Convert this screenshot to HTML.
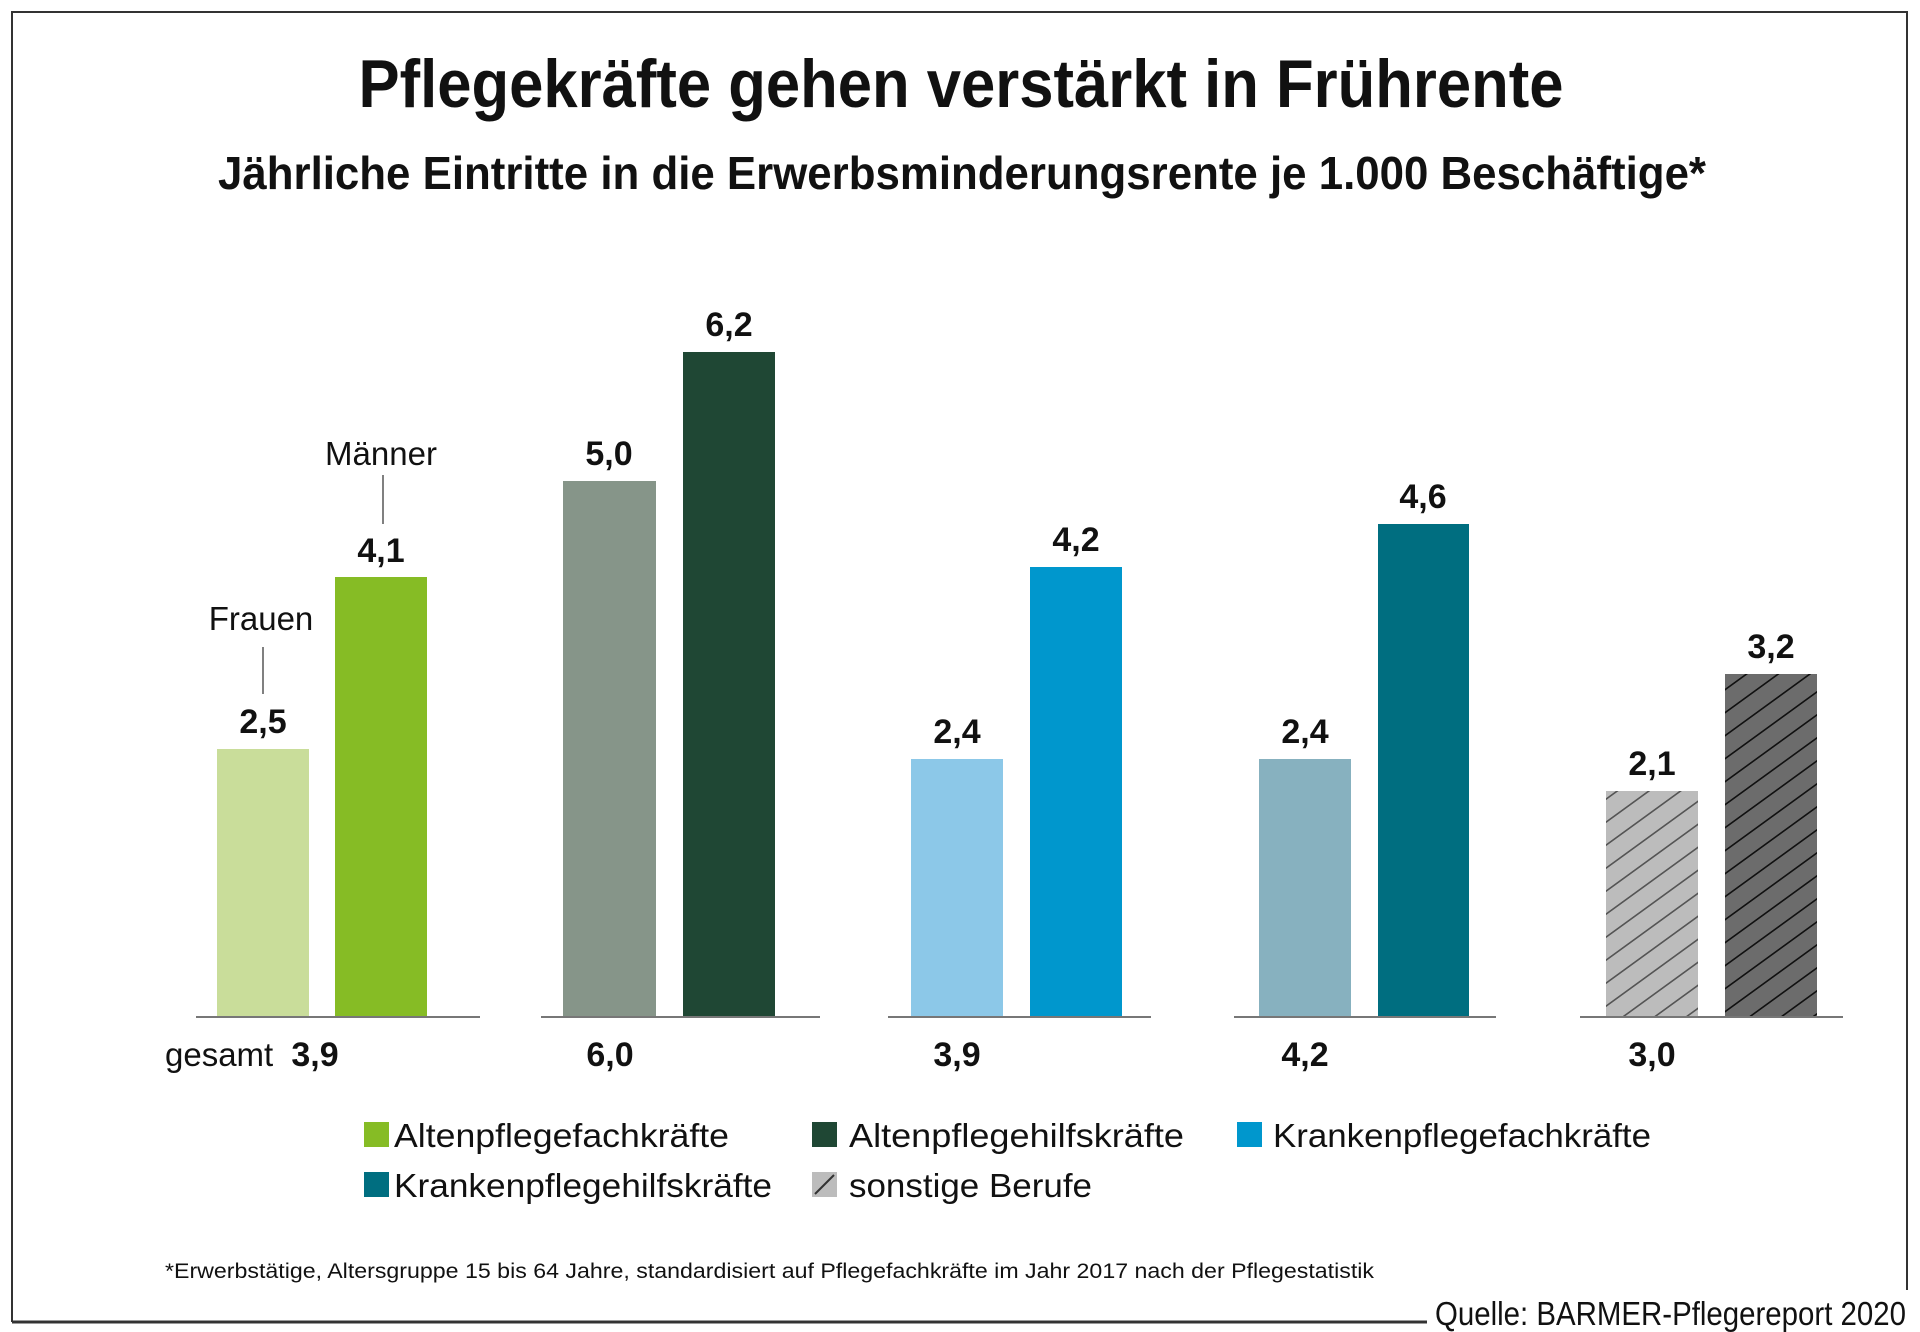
<!DOCTYPE html>
<html><head><meta charset="utf-8"><style>
html,body{margin:0;padding:0;background:#fff}
svg{display:block}
text{font-family:"Liberation Sans",sans-serif;fill:#111}
.v{font-weight:bold;font-size:34px;text-anchor:middle}
.l{font-size:33px}
</style></head><body>
<svg width="1920" height="1332" viewBox="0 0 1920 1332" xmlns="http://www.w3.org/2000/svg">
<defs>
<pattern id="h1" patternUnits="userSpaceOnUse" width="32" height="23" patternTransform="skewY(-36)">
<rect width="32" height="23" fill="#bcbcbc"/><line x1="0" y1="11" x2="32" y2="11" stroke="#555" stroke-width="2"/></pattern>
<pattern id="h2" patternUnits="userSpaceOnUse" width="32" height="23" patternTransform="skewY(-36)">
<rect width="32" height="23" fill="#6c6c6c"/><line x1="0" y1="11" x2="32" y2="11" stroke="#111" stroke-width="2"/></pattern>
</defs>
<!-- frame -->
<path d="M12 1290 V12 H1907 V1290" fill="none" stroke="#333" stroke-width="2"/>
<line x1="12" y1="1322" x2="1427" y2="1322" stroke="#333" stroke-width="3"/>
<line x1="12" y1="1290" x2="12" y2="1322" stroke="#333" stroke-width="2"/>

<text x="961" y="107" font-size="68" font-weight="bold" text-anchor="middle" textLength="1205" lengthAdjust="spacingAndGlyphs">Pflegekräfte gehen verstärkt in Frührente</text>
<text x="962" y="189" font-size="46" font-weight="bold" text-anchor="middle" textLength="1488" lengthAdjust="spacingAndGlyphs">Jährliche Eintritte in die Erwerbsminderungsrente je 1.000 Beschäftige*</text>

<!-- axes -->
<g stroke="#777" stroke-width="2">
<line x1="196" y1="1017" x2="480" y2="1017"/>
<line x1="541" y1="1017" x2="820" y2="1017"/>
<line x1="888" y1="1017" x2="1151" y2="1017"/>
<line x1="1234" y1="1017" x2="1496" y2="1017"/>
<line x1="1580" y1="1017" x2="1843" y2="1017"/>
</g>
<!-- bars -->
<rect x="217" y="749" width="92" height="267" fill="#c9dd9a"/>
<rect x="335" y="577" width="92" height="439" fill="#86bc25"/>
<rect x="563" y="481" width="93" height="535" fill="#869589"/>
<rect x="683" y="352" width="92" height="664" fill="#1f4734"/>
<rect x="911" y="759" width="92" height="257" fill="#8cc8e8"/>
<rect x="1030" y="567" width="92" height="449" fill="#0097cd"/>
<rect x="1259" y="759" width="92" height="257" fill="#87b1bf"/>
<rect x="1378" y="524" width="91" height="492" fill="#006e80"/>
<rect x="1606" y="791" width="92" height="225" fill="url(#h1)"/>
<rect x="1725" y="674" width="92" height="342" fill="url(#h2)"/>

<!-- value labels -->
<text class="v" x="263" y="733">2,5</text>
<text class="v" x="381" y="562">4,1</text>
<text class="v" x="609" y="465">5,0</text>
<text class="v" x="729" y="336">6,2</text>
<text class="v" x="957" y="743">2,4</text>
<text class="v" x="1076" y="551">4,2</text>
<text class="v" x="1305" y="743">2,4</text>
<text class="v" x="1423" y="508">4,6</text>
<text class="v" x="1652" y="775">2,1</text>
<text class="v" x="1771" y="658">3,2</text>

<text class="l" x="261" y="630" text-anchor="middle">Frauen</text>
<line x1="263" y1="647" x2="263" y2="694" stroke="#555" stroke-width="1.5"/>
<text class="l" x="381" y="465" text-anchor="middle">Männer</text>
<line x1="383" y1="475" x2="383" y2="524" stroke="#555" stroke-width="1.5"/>

<!-- totals -->
<text class="l" x="165" y="1066">gesamt</text>
<text class="v" x="315" y="1066">3,9</text>
<text class="v" x="610" y="1066">6,0</text>
<text class="v" x="957" y="1066">3,9</text>
<text class="v" x="1305" y="1066">4,2</text>
<text class="v" x="1652" y="1066">3,0</text>

<!-- legend -->
<rect x="364" y="1122" width="25" height="25" fill="#86bc25"/>
<text class="l" x="394" y="1147" textLength="335" lengthAdjust="spacingAndGlyphs">Altenpflegefachkräfte</text>
<rect x="812" y="1122" width="25" height="25" fill="#1f4734"/>
<text class="l" x="849" y="1147" textLength="335" lengthAdjust="spacingAndGlyphs">Altenpflegehilfskräfte</text>
<rect x="1237" y="1122" width="25" height="25" fill="#0097cd"/>
<text class="l" x="1273" y="1147" textLength="378" lengthAdjust="spacingAndGlyphs">Krankenpflegefachkräfte</text>
<rect x="364" y="1172" width="25" height="25" fill="#006e80"/>
<text class="l" x="394" y="1197" textLength="378" lengthAdjust="spacingAndGlyphs">Krankenpflegehilfskräfte</text>
<rect x="812" y="1172" width="25" height="25" fill="#bcbcbc"/>
<line x1="815" y1="1194" x2="834" y2="1175" stroke="#333" stroke-width="2"/>
<text class="l" x="849" y="1197" textLength="243" lengthAdjust="spacingAndGlyphs">sonstige Berufe</text>

<text x="165" y="1278" font-size="21" textLength="1209" lengthAdjust="spacingAndGlyphs">*Erwerbstätige, Altersgruppe 15 bis 64 Jahre, standardisiert auf Pflegefachkräfte im Jahr 2017 nach der Pflegestatistik</text>
<text x="1435" y="1325" font-size="33" textLength="471" lengthAdjust="spacingAndGlyphs">Quelle: BARMER-Pflegereport 2020</text>
</svg>
</body></html>
